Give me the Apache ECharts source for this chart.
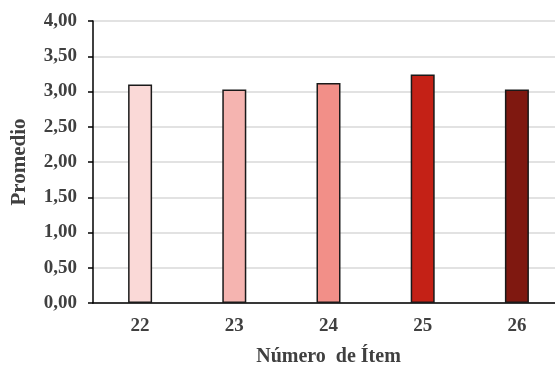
<!DOCTYPE html>
<html>
<head>
<meta charset="utf-8">
<script src="https://cdn.jsdelivr.net/npm/echarts@6/dist/echarts.min.js"></script>
<style>
  html, body { margin: 0; padding: 0; background: #fff; }
  #chart { width: 555px; height: 367px; }
</style>
</head>
<body>
<div id="chart"></div>
<script>
// Item numbers and their mean scores
const items = ['22', '23', '24', '25', '26'];
const means = [3.10, 3.03, 3.12, 3.24, 3.03];
const barColors = ['#FAD9D7', '#F5B4B0', '#F28F88', '#C42116', '#7F1810'];

const textColor = '#404040';
const fontFamily = '"Liberation Serif", "Times New Roman", serif';

const chart = echarts.init(document.getElementById('chart'));
chart.setOption({
  animation: false,
  grid: { left: 93, top: 21, width: 471, height: 282, containLabel: false, outerBoundsMode: 'none' },
  xAxis: {
    type: 'category',
    data: items,
    name: 'Número  de Ítem',
    nameLocation: 'middle',
    nameGap: 44,
    nameTextStyle: { color: textColor, fontFamily, fontWeight: 'bold', fontSize: 20 },
    axisLine: { lineStyle: { color: '#000', width: 1.5 } },
    axisTick: { show: false },
    axisLabel: { color: textColor, fontFamily, fontWeight: 'bold', fontSize: 19, margin: 14 }
  },
  yAxis: {
    type: 'value',
    min: 0,
    max: 4,
    interval: 0.5,
    name: 'Promedio',
    nameLocation: 'middle',
    nameGap: 63,
    nameTextStyle: { color: textColor, fontFamily, fontWeight: 'bold', fontSize: 21 },
    axisLine: { show: true, lineStyle: { color: '#000', width: 1.5 } },
    axisTick: { show: true, length: 5, lineStyle: { color: '#000', width: 1.5 } },
    axisLabel: {
      color: textColor, fontFamily, fontWeight: 'bold', fontSize: 19, margin: 16,
      formatter: v => v.toFixed(2).replace('.', ',')
    },
    splitLine: { lineStyle: { color: '#D9D9D9', width: 1.5 } }
  },
  series: [{
    type: 'bar',
    barWidth: 24,
    data: means.map((v, i) => ({
      value: v,
      itemStyle: { color: barColors[i], borderColor: '#1a1a1a', borderWidth: 1.5 }
    }))
  }]
});
</script>
</body>
</html>
